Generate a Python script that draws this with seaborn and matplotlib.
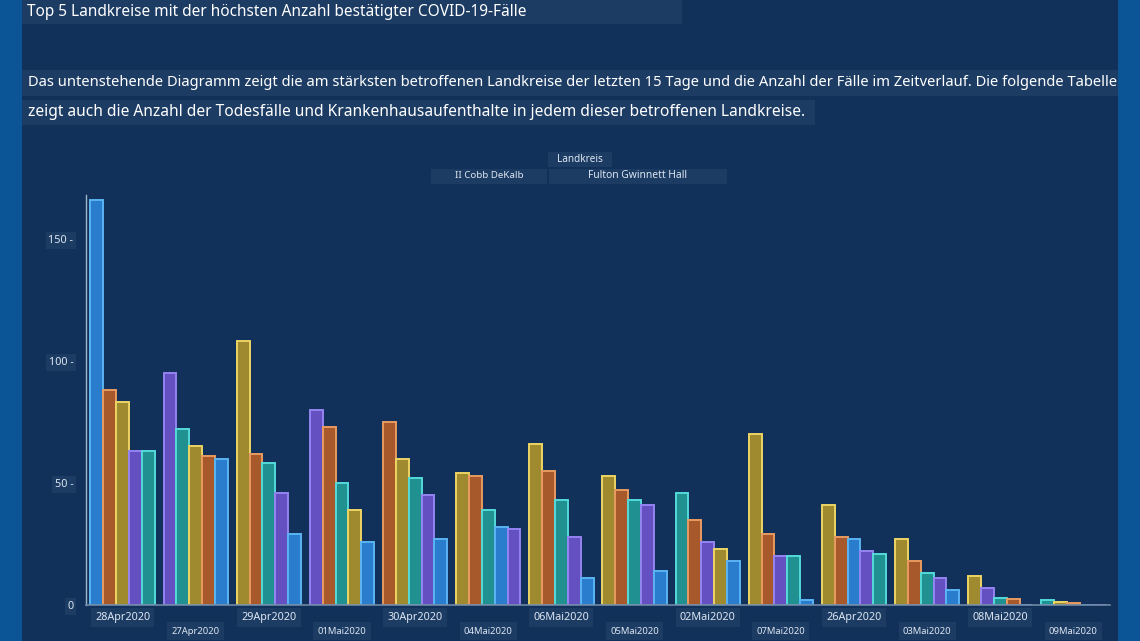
import pandas as pd
import matplotlib
matplotlib.use("Agg")
import matplotlib.pyplot as plt
from matplotlib.patches import Rectangle
import seaborn as sns

# Daten
daten = ["28Apr2020", "27Apr2020", "29Apr2020", "01Mai2020", "30Apr2020",
         "04Mai2020", "06Mai2020", "05Mai2020", "02Mai2020", "07Mai2020",
         "26Apr2020", "03Mai2020", "08Mai2020", "09Mai2020"]
landkreise = ["Cobb", "DeKalb", "Fulton", "Gwinnett", "Hall"]
cobb     = [166, 60, 29, 26, 27, 32, 11, 14, 18, 2, 27, 6, 0, 0]
dekalb   = [88, 61, 62, 73, 75, 53, 55, 47, 35, 29, 28, 18, 2.6, 1]
fulton   = [83, 65, 108, 39, 60, 54, 66, 53, 23, 70, 41, 27, 12, 1.2]
gwinnett = [63, 95, 46, 80, 45, 31, 28, 41, 26, 20, 22, 11, 7, 0]
hall     = [63, 72, 58, 50, 52, 39, 43, 43, 46, 20, 21, 13, 3, 2]
y_ticks = [0, 50, 100, 150]
y_labels = ["0", "50 -", "100 -", "150 -"]

farben = {"Cobb": ("#2a7ccc", "#5ab4f4"), "DeKalb": ("#a8592c", "#e89a60"),
          "Fulton": ("#a08a30", "#ecd464"), "Gwinnett": ("#6450c0", "#9484f2"),
          "Hall": ("#209090", "#54dada")}

NAVY = "#12315a"
BOX = "#1c3c64"
W, H = 1140, 641

# Tabelle: pro Datum werden die Landkreise absteigend sortiert
werte = dict(zip(landkreise, [cobb, dekalb, fulton, gwinnett, hall]))
zeilen = []
for i, d in enumerate(daten):
    sortiert = sorted(landkreise, key=lambda k: -werte[k][i])
    for rang, k in enumerate(sortiert):
        zeilen.append({"datum": d, "rang": rang, "landkreis": k, "faelle": werte[k][i]})
df = pd.DataFrame(zeilen)

sns.set_style("dark")
plt.rcParams["font.family"] = ["Noto Sans", "DejaVu Sans"]

fig = plt.figure(figsize=(W / 100, H / 100), dpi=100)
fig.patch.set_facecolor("#0b5596")


def px_rect(x0, y0, x1, y1, color, z=0):
    fig.patches.append(Rectangle((x0 / W, 1 - y1 / H), (x1 - x0) / W, (y1 - y0) / H,
                                 transform=fig.transFigure, facecolor=color,
                                 edgecolor="none", zorder=z))


px_rect(22, 0, 1118, H, NAVY, z=-5)
px_rect(22, 0, 682, 24, BOX, z=-4)
px_rect(22, 70, 1118, 96, BOX, z=-4)
px_rect(22, 100, 815, 125, BOX, z=-4)
px_rect(548, 152, 612, 167, BOX, z=-4)
px_rect(431, 169, 547, 184, BOX, z=-4)
px_rect(549, 169, 727, 184, BOX, z=-4)

fig.text(27 / W, 1 - 12 / H, "Top 5 Landkreise mit der höchsten Anzahl bestätigter COVID-19-Fälle",
         color="white", fontsize=11.1, va="center", ha="left")
fig.text(28 / W, 1 - 83 / H,
         "Das untenstehende Diagramm zeigt die am stärksten betroffenen Landkreise der letzten 15 Tage "
         "und die Anzahl der Fälle im Zeitverlauf. Die folgende Tabelle",
         color="white", fontsize=10.6, va="center", ha="left")
fig.text(28 / W, 1 - 112 / H,
         "zeigt auch die Anzahl der Todesfälle und Krankenhausaufenthalte in jedem dieser betroffenen Landkreise.",
         color="white", fontsize=11.2, va="center", ha="left")
fig.text(580 / W, 1 - 160 / H, "Landkreis", color="#dde6f0", fontsize=7.2, va="center", ha="center")
fig.text(489 / W, 1 - 176 / H, "II Cobb DeKalb", color="#dde6f0", fontsize=7.0, va="center", ha="center")
fig.text(638 / W, 1 - 176 / H, "Fulton Gwinnett Hall", color="#dde6f0", fontsize=7.4, va="center", ha="center")

ax = fig.add_axes([86 / W, 1 - 605 / H, (1110 - 86) / W, (605 - 195) / H])
ax.set_facecolor(NAVY)

sns.barplot(data=df, x="datum", y="faelle", hue="rang", order=daten,
            hue_order=[0, 1, 2, 3, 4], dodge=True, width=0.88, legend=False,
            errorbar=None, ax=ax)

# Balken nach Landkreis einfärben
for rang, cont in enumerate(ax.containers):
    for i, bar in enumerate(cont):
        k = df[(df["datum"] == daten[i]) & (df["rang"] == rang)]["landkreis"].iloc[0]
        face, edge = farben[k]
        bar.set_facecolor(face)
        bar.set_edgecolor(edge)
        bar.set_linewidth(1.4)

ax.set_xlim(-0.5, 13.5)
ax.set_ylim(0, 168)
ax.set_xlabel("")
ax.set_ylabel("")
ax.grid(False)

ax.set_yticks(y_ticks)
ax.set_yticklabels(y_labels)
ax.tick_params(axis="y", length=0, pad=9, labelsize=7.8, labelcolor="#dde6f0")
for lab in ax.get_yticklabels():
    lab.set_bbox(dict(facecolor=BOX, edgecolor="none", pad=2))

# Datumsbeschriftungen abwechselnd in zwei Reihen
ax.set_xticks(range(0, len(daten), 2))
ax.set_xticklabels(daten[0::2])
ax.set_xticks(range(1, len(daten), 2), minor=True)
ax.set_xticklabels(daten[1::2], minor=True)
ax.tick_params(axis="x", which="major", length=0, pad=5, labelsize=7.8, labelcolor="#dde6f0")
ax.tick_params(axis="x", which="minor", length=0, pad=15.5, labelsize=6.8, labelcolor="#dde6f0")
for lab in ax.get_xticklabels() + ax.get_xticklabels(minor=True):
    lab.set_bbox(dict(facecolor=BOX, edgecolor="none", pad=3))

for s in ["top", "right"]:
    ax.spines[s].set_visible(False)
ax.spines["left"].set_color("#9fb3c8")
ax.spines["left"].set_linewidth(1)
ax.spines["bottom"].set_color("#6f88a6")
ax.spines["bottom"].set_linewidth(1.2)

fig.savefig("out.png", dpi=100, facecolor=fig.get_facecolor())
